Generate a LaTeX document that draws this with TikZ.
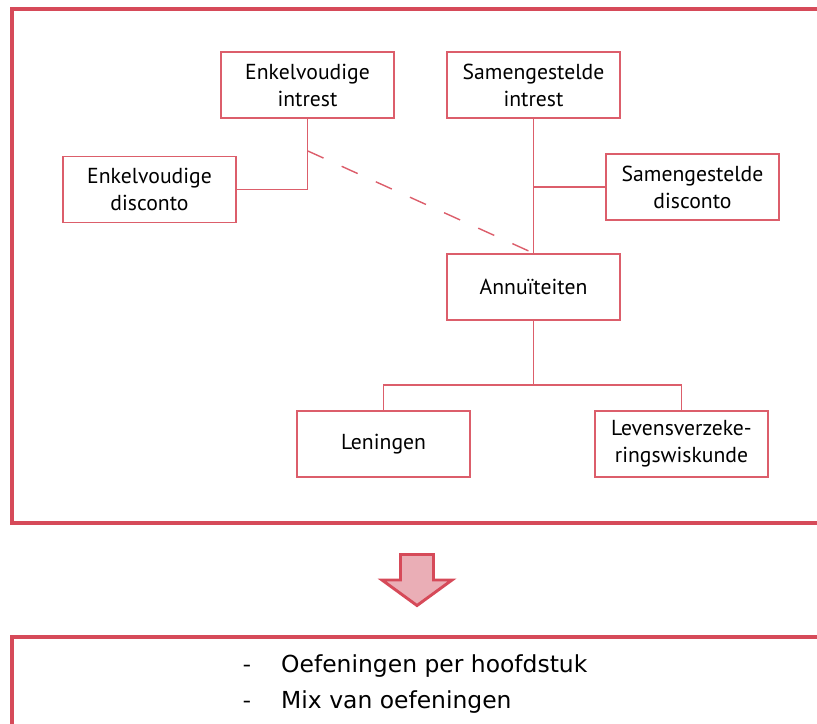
\documentclass[tikz,border=0pt]{standalone}
\usepackage{fontspec}
\setmainfont{PT Sans}
\newfontfamily\listfont{DejaVu Sans}
\usetikzlibrary{calc}
\usepackage{xcolor}
\definecolor{framered}{HTML}{D64A59}
\definecolor{boxred}{HTML}{DC5E6B}
\definecolor{arrowpink}{HTML}{EAAEB6}

\begin{document}
\begin{tikzpicture}[x=0.03cm, y=-0.03cm,
    topic/.style={draw=boxred, line width=1.4pt, rectangle, minimum width=5.19cm,
      minimum height=1.98cm, align=center, inner sep=0pt,
      font=\fontsize{18.5pt}{23pt}\selectfont},
    link/.style={draw=boxred, line width=1.2pt},
    listline/.style={anchor=base west, inner sep=0pt,
      font=\listfont\fontsize{20pt}{25pt}\selectfont}]
      \useasboundingbox (0,0) rectangle (817,723);
      \coordinate (newcenter) at (0, 0);

      \draw [color=framered, line width=2.6pt] (830,9) -- (12,9) -- (12,523) -- (830,523);
      \draw [color=framered, line width=2.6pt] (830,637) -- (12,637) -- (12,740);

      \node [topic, name=enkint] at ($(newcenter) + (307.5, 85)$) {Enkelvoudige\\intrest};
      \node [topic, name=enkdis] at ($(newcenter) + (149.5, 189.5)$) {Enkelvoudige\\disconto};
      \node [topic, name=samint] at ($(newcenter) + (533.5, 85)$) {Samengestelde\\intrest};
      \node [topic, name=samdis] at ($(newcenter) + (692.5, 187)$) {Samengestelde\\disconto};
      \node [topic, name=annu] at ($(newcenter) + (533.5, 287)$) {Annu\"iteiten};
      \node [topic, name=lening] at ($(newcenter) + (383.5, 444)$) {Leningen};
      \node [topic, name=levens] at ($(newcenter) + (681.5, 444)$) {Levensverzeke-\\ringswiskunde};

      \coordinate (enkbend) at ($(enkint.south) + (0, 32)$);
      \coordinate (split) at ($(annu.south) + (0, 64)$);

      \draw [link] (enkint.south) |- (enkdis.east);
      \draw [link] (samint.south) -- (annu.north);
      \draw [link] (samdis.west) -- (samdis.west -| samint.south);
      \draw [link, dash pattern=on 15pt off 17pt] (enkbend) -- (annu.north);
      \draw [link] (annu.south) -- (split);
      \draw [link] (lening.north) |- (split) -| (levens.north);

      \coordinate (arrowtop) at ($(newcenter) + (417, 554.5)$);
      \draw [fill=arrowpink, draw=framered, line width=2.5pt, line join=miter]
      ($(arrowtop) + (-16.5, 0)$) -- ($(arrowtop) + (16.5, 0)$) --
      ($(arrowtop) + (16.5, 25.5)$) -- ($(arrowtop) + (35, 25.5)$) --
      ($(arrowtop) + (0, 51)$) -- ($(arrowtop) + (-35, 25.5)$) --
      ($(arrowtop) + (-16.5, 25.5)$) -- cycle;

      \node [listline, name=dash1] at ($(newcenter) + (243, 672)$) {\scalebox{0.65}[1]{–}};
      \node [listline, name=item1] at ($(newcenter) + (281, 672)$) {Oefeningen per hoofdstuk};
      \node [listline, name=dash2] at ($(newcenter) + (243, 708)$) {\scalebox{0.65}[1]{–}};
      \node [listline, name=item2] at ($(newcenter) + (281, 708)$) {Mix van oefeningen};
    \end{tikzpicture}
\end{document}
